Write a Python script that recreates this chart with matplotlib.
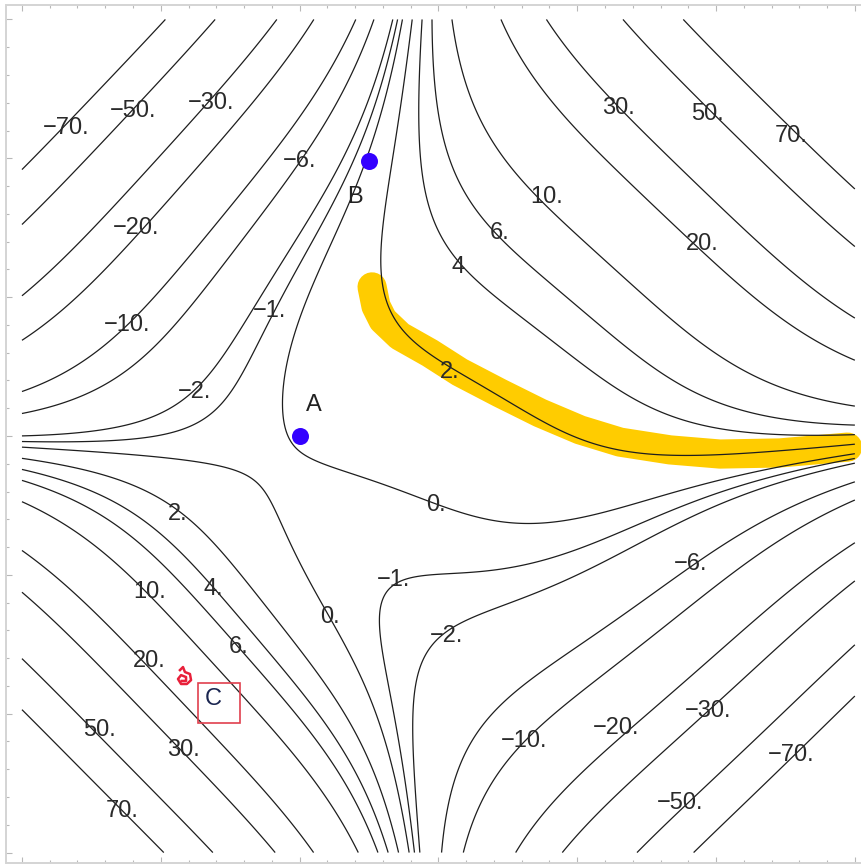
import numpy as np
import matplotlib.pyplot as plt
from matplotlib.patches import Rectangle

plt.rcParams['font.family'] = ['Liberation Sans', 'DejaVu Sans']

contour_levels = [-70, -50, -30, -20, -10, -6, -2, -1, 0, 2, 4, 6, 10, 20, 30, 50, 70]

# where each contour meets the edges of the square [-1.5, 1.5]^2
left_lev = [-70, -50, -30, -20, -10, -6, -2, -1, 0, 2, 4, 6, 10, 20, 30, 50, 70]
left_y = [0.95, 0.75, 0.50, 0.34, 0.16, 0.08, 0.00, -0.02, -0.04, -0.08, -0.12, -0.16, -0.24, -0.41, -0.56, -0.80, -0.98]
top_lev = [-70, -50, -30, -20, -10, -6, -2, -1, 0, 2, 4, 6, 10, 20, 30, 50, 70]
top_x = [-0.97, -0.79, -0.58, -0.45, -0.29, -0.23, -0.16, -0.15, -0.13, -0.09, -0.06, -0.02, 0.06, 0.23, 0.39, 0.65, 0.86]
right_lev = [70, 50, 30, 20, 10, 6, 4, 2, 0, -1, -2, -6, -10, -20, -30, -50, -70]
right_y = [0.87, 0.67, 0.42, 0.27, 0.10, 0.03, 0.00, -0.04, -0.06, -0.08, -0.10, -0.17, -0.24, -0.39, -0.53, -0.75, -0.93]
bottom_lev = [70, 50, 30, 20, -1, -2, -6, -10, -20, -30, -50, -70]
bottom_x = [-0.99, -0.81, -0.58, -0.44, -0.09, -0.06, 0.02, 0.09, 0.28, 0.44, 0.70, 0.91]

# points read along the lines inside the square
trace_lev = [0, 0, 0, 0, 0, 0, 0, 0, 0, 0, 0, 0, 0,
             2, 2, 2, 2, 2, 2, 2, 2, 2,
             -1, -1, -1, -1,
             -2, -2, -2, -2]
trace_x = [-0.50, -0.25, -0.56, -0.56, -0.53, -0.47, -0.38, -0.20, -0.32, -0.06, 0.27, 0.57, 0.93,
           -0.23, -0.23, -0.22, -0.15, 0.22, 0.44, 0.76, 1.12, -0.22,
           -0.21, -0.20, -0.16, -0.13,
           -0.06, -0.07, -0.07, 0.22]
trace_y = [0.00, 0.99, 0.13, 0.25, 0.37, 0.49, 0.67, 1.21, -0.11, -0.22, -0.32, -0.27, -0.19,
           0.67, 0.55, 0.45, 0.35, 0.14, 0.02, -0.04, -0.05, 0.85,
           -0.59, -0.77, -1.01, -1.25,
           -0.77, -0.95, -1.19, -0.62]

# contour labels as printed on the plot
label_txt = ['\u221270.', '\u221250.', '\u221230.', '\u221220.', '\u221210.', '\u22126.', '\u22121.', '\u22122.',
             '30.', '50.', '70.', '10.', '20.', '6.', '4', '2.',
             '2.', '10.', '4.', '6.', '20.', '50.', '30.', '70.', '0.',
             '0.', '\u22121.', '\u22122.', '\u22126.', '\u221210.', '\u221220.', '\u221230.', '\u221250.', '\u221270.']
label_x = [-1.34, -1.10, -0.82, -1.09, -1.12, -0.50, -0.61, -0.88,
           0.65, 0.97, 1.27, 0.39, 0.95, 0.22, 0.07, 0.04,
           -0.94, -1.04, -0.81, -0.72, -1.04, -1.22, -0.92, -1.14, -0.39,
           -0.01, -0.16, 0.03, 0.91, 0.31, 0.64, 0.97, 0.87, 1.27]
label_y = [1.11, 1.17, 1.20, 0.75, 0.40, 0.99, 0.45, 0.16,
           1.18, 1.16, 1.08, 0.86, 0.69, 0.73, 0.61, 0.23,
           -0.28, -0.56, -0.55, -0.76, -0.81, -1.06, -1.13, -1.35, -0.65,
           -0.25, -0.52, -0.72, -0.46, -1.10, -1.05, -0.99, -1.32, -1.15]

# hand-drawn marks
dot_x = [-0.50, -0.25]
dot_y = [0.00, 0.99]
dot_names = ['A', 'B']
name_x = [-0.45, -0.30]
name_y = [0.11, 0.86]
yellow_x = [-0.239, -0.225, -0.200, -0.139, -0.031, 0.077, 0.221, 0.366, 0.510, 0.654, 0.834, 1.014, 1.230, 1.474]
yellow_y = [0.537, 0.468, 0.418, 0.360, 0.299, 0.230, 0.155, 0.083, 0.022, -0.022, -0.050, -0.065, -0.061, -0.040]
scribble_x = [-0.931, -0.920, -0.913, -0.895, -0.891, -0.906, -0.927, -0.938, -0.927, -0.909, -0.909, -0.924]
scribble_y = [-0.843, -0.832, -0.850, -0.857, -0.879, -0.893, -0.893, -0.875, -0.861, -0.868, -0.882, -0.882]
box_c = (-0.866, -1.033, 0.151, 0.144)

# collect every read point and fit a smooth surface through them
px = np.concatenate([np.full(len(left_y), -1.5), top_x, np.full(len(right_y), 1.5), bottom_x, trace_x, label_x])
py = np.concatenate([left_y, np.full(len(top_x), 1.5), right_y, np.full(len(bottom_x), -1.5), trace_y, label_y])
lab_vals = [float(t.replace('\u2212', '-')) for t in label_txt]
pv = np.concatenate([left_lev, top_lev, right_lev, bottom_lev, trace_lev, lab_vals]).astype(float)

deg = 5
def basis(x, y):
    return np.stack([x**i * y**j for i in range(deg + 1) for j in range(deg + 1 - i)], axis=-1)

A = basis(px, py)
w = 1.0 / (4.0 + 2.5 * np.abs(pv))
lam = 1e-4
Aw = np.vstack([A * w[:, None], np.sqrt(lam) * np.eye(A.shape[1])])
bw = np.concatenate([pv * w, np.zeros(A.shape[1])])
coef = np.linalg.lstsq(Aw, bw, rcond=None)[0]

g = np.linspace(-1.5, 1.5, 700)
GX, GY = np.meshgrid(g, g)
Z = basis(GX, GY) @ coef

fig = plt.figure(figsize=(8.62, 8.65), dpi=100)
ax = fig.add_axes([6.5 / 862, 1 - 863 / 865, (870 - 6.5) / 862, (863 - 4.5) / 865])
ax.set_xlim(-1.5557, 1.5545)
ax.set_ylim(-1.5376, 1.5538)

ax.plot(yellow_x, yellow_y, color='#FFCC00', lw=21, solid_capstyle='round', solid_joinstyle='round', zorder=1)
ax.contour(GX, GY, Z, levels=contour_levels, colors='#1e1e1e', linewidths=0.9,
           linestyles='solid', zorder=2)

for t, x, y in zip(label_txt, label_x, label_y):
    ax.text(x, y, t, fontsize=17, color='#2a2a2a', ha='center', va='center', zorder=3)

ax.scatter(dot_x, dot_y, s=150, color='#3300FF', zorder=4, linewidths=0)
for t, x, y in zip(dot_names, name_x, name_y):
    ax.text(x, y, t, fontsize=17, color='#222222', ha='center', va='center', zorder=4)

ax.plot(scribble_x, scribble_y, color='#E8203A', lw=1.8, zorder=4)
ax.add_patch(Rectangle(box_c[:2], box_c[2], box_c[3], fill=False, edgecolor='#E0404E', lw=1.2, zorder=4))
ax.text(box_c[0] + 0.055, box_c[1] + 0.085, 'C', fontsize=17, color='#1a2550', ha='center', va='center', zorder=4)

ax.set_xticks(np.arange(-1.5, 1.51, 0.5))
ax.set_yticks(np.arange(-1.5, 1.51, 0.5))
ax.set_xticks(np.arange(-1.5, 1.51, 0.1), minor=True)
ax.set_yticks(np.arange(-1.5, 1.51, 0.1), minor=True)
ax.tick_params(which='both', direction='in', top=True, right=False, labelbottom=False, labelleft=False,
               color='#b8b8b8', width=0.8)
ax.tick_params(which='major', length=4.5)
ax.tick_params(which='minor', length=2.5)
for s in ax.spines.values():
    s.set_color('#d4d4d4')
    s.set_linewidth(1.4)
ax.spines['right'].set_visible(False)

fig.savefig('out.png', dpi=100)
